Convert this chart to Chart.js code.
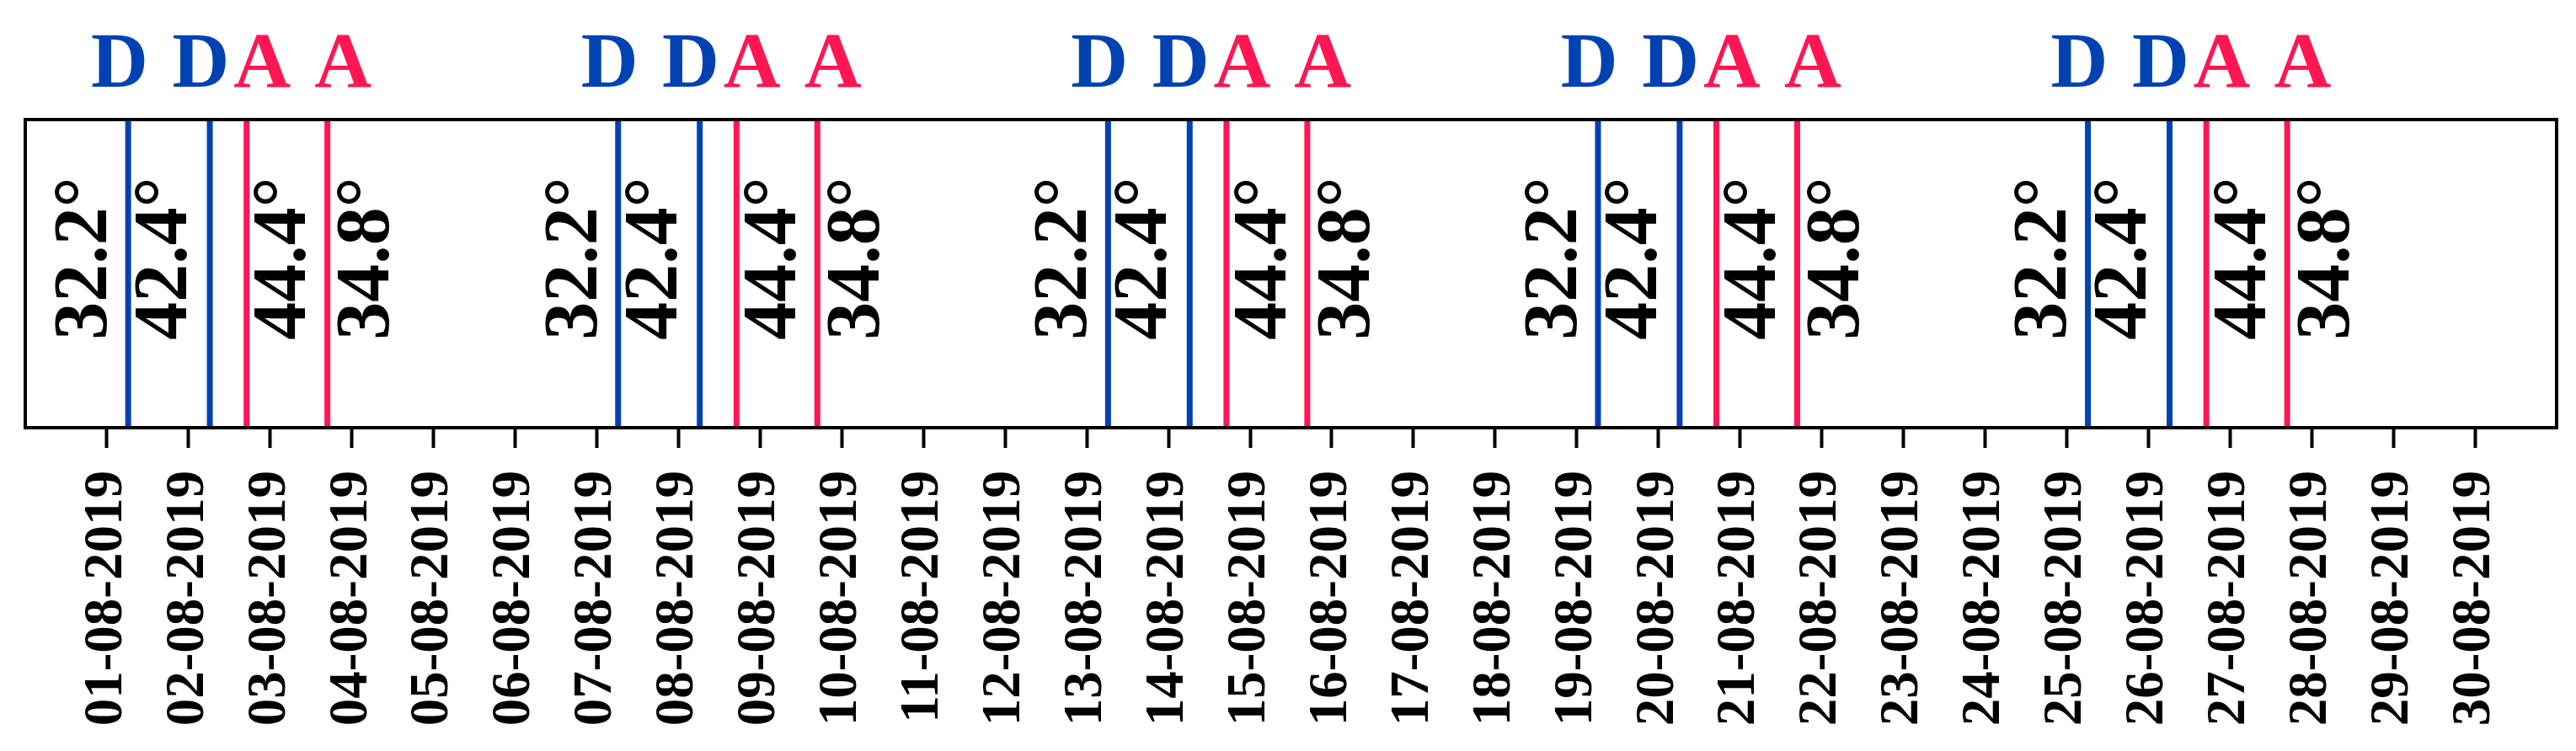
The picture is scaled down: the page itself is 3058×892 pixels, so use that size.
<!DOCTYPE html>
<html>
<head>
<meta charset="utf-8">
<script src="https://cdn.jsdelivr.net/npm/chart.js@4.4.1/dist/chart.umd.min.js"></script>
<style>
  html, body { margin: 0; padding: 0; background: #ffffff; }
  #wrap { width: 3058px; height: 892px; position: relative; }
</style>
</head>
<body>
<div id="wrap"><canvas id="c" width="3058" height="892"></canvas></div>
<script>
// ---------------- DATA ----------------
const dateLabels = [
  '01-08-2019','02-08-2019','03-08-2019','04-08-2019','05-08-2019','06-08-2019',
  '07-08-2019','08-08-2019','09-08-2019','10-08-2019','11-08-2019','12-08-2019',
  '13-08-2019','14-08-2019','15-08-2019','16-08-2019','17-08-2019','18-08-2019',
  '19-08-2019','20-08-2019','21-08-2019','22-08-2019','23-08-2019','24-08-2019',
  '25-08-2019','26-08-2019','27-08-2019','28-08-2019','29-08-2019','30-08-2019'
];
// positions in days from 01-08-2019 (tick index units)
const dLinePositions = [0.26, 1.26, 6.26, 7.26, 12.26, 13.26, 18.26, 19.26, 24.26, 25.26];
const aLinePositions = [1.71, 2.70, 7.71, 8.70, 13.71, 14.70, 19.71, 20.70, 25.71, 26.70];

const dLetterPositions = [0.155, 1.15, 6.155, 7.15, 12.155, 13.15, 18.155, 19.15, 24.155, 25.15];
const aLetterPositions = [1.90, 2.89, 7.90, 8.89, 13.90, 14.89, 19.90, 20.89, 25.90, 26.89];

const dTemps = ['32.2°','42.4°','32.2°','42.4°','32.2°','42.4°','32.2°','42.4°','32.2°','42.4°'];
const dTempPositions = [-0.25, 0.73, 5.75, 6.73, 11.75, 12.73, 17.75, 18.73, 23.75, 24.73];
const aTemps = ['44.4°','34.8°','44.4°','34.8°','44.4°','34.8°','44.4°','34.8°','44.4°','34.8°'];
const aTempPositions = [2.19, 3.21, 8.19, 9.21, 14.19, 15.21, 20.19, 21.21, 26.19, 27.21];

const dLetter = 'D';
const aLetter = 'A';

// ---------------- STYLE ----------------
const BLUE = 'rgb(0,66,178)';
const RED = 'rgb(255,22,82)';
const SERIF = '"Liberation Serif", "Times New Roman", serif';

function lineDataset(p, color) {
  return {
    data: [{ x: p, y: 0 }, { x: p, y: 1 }],
    borderColor: color,
    borderWidth: 7,
    pointRadius: 0,
    showLine: true,
    fill: false
  };
}

const datasets = [
  ...dLinePositions.map(p => lineDataset(p, BLUE)),
  ...aLinePositions.map(p => lineDataset(p, RED))
];

const framePlugin = {
  id: 'frame',
  afterDatasetsDraw(chart) {
    const { ctx, chartArea: a } = chart;
    ctx.save();
    ctx.strokeStyle = '#000';
    ctx.lineWidth = 4;
    ctx.strokeRect(a.left, a.top, a.right - a.left, a.bottom - a.top);
    ctx.restore();
  }
};

const textPlugin = {
  id: 'texts',
  afterDraw(chart) {
    const { ctx } = chart;
    const xs = chart.scales.x;
    ctx.save();
    // letters above the frame
    ctx.font = 'bold 94px ' + SERIF;
    ctx.textAlign = 'center';
    ctx.textBaseline = 'alphabetic';
    dLetterPositions.forEach(p => {
      ctx.fillStyle = BLUE;
      ctx.fillText(dLetter, xs.getPixelForValue(p), 103);
    });
    aLetterPositions.forEach(p => {
      ctx.fillStyle = RED;
      ctx.fillText(aLetter, xs.getPixelForValue(p), 103);
    });
    // temperature labels (rotated)
    ctx.font = 'bold 90px ' + SERIF;
    ctx.fillStyle = '#000';
    const cy = 307;
    const drawRot = (txt, p) => {
      ctx.save();
      ctx.translate(xs.getPixelForValue(p), cy);
      ctx.rotate(-Math.PI / 2);
      ctx.textAlign = 'center';
      ctx.textBaseline = 'middle';
      ctx.fillText(txt, 0, 0);
      ctx.restore();
    };
    dTemps.forEach((t, i) => drawRot(t, dTempPositions[i]));
    aTemps.forEach((t, i) => drawRot(t, aTempPositions[i]));
    ctx.restore();
  }
};

new Chart(document.getElementById('c'), {
  type: 'scatter',
  data: { datasets },
  options: {
    responsive: false,
    animation: false,
    devicePixelRatio: 1,
    layout: { padding: { left: 30, right: 23, top: 142, bottom: 0 } },
    plugins: { legend: { display: false }, tooltip: { enabled: false } },
    scales: {
      x: {
        type: 'linear',
        min: -1,
        max: 30,
        afterBuildTicks(axis) {
          axis.ticks = dateLabels.map((_, i) => ({ value: i }));
        },
        afterFit(scale) {
          scale.height = 892 - 508;
          scale.paddingLeft = 0;
          scale.paddingRight = 0;
        },
        ticks: {
          autoSkip: false,
          minRotation: 90,
          maxRotation: 90,
          padding: 27,
          color: '#000',
          font: { family: SERIF, size: 65, weight: 'bold' },
          callback: (v) => dateLabels[v]
        },
        grid: {
          drawOnChartArea: false,
          drawTicks: true,
          tickLength: 24,
          tickWidth: 4,
          tickColor: '#000'
        },
        border: { display: false }
      },
      y: { display: false, min: 0, max: 1 }
    }
  },
  plugins: [framePlugin, textPlugin]
});
</script>
</body>
</html>
